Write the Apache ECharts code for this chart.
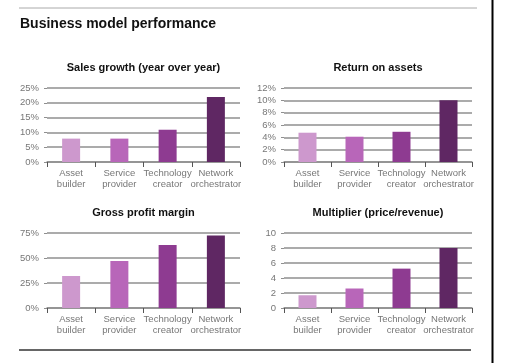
<!DOCTYPE html>
<html>
<head>
<meta charset="utf-8">
<script src="https://cdn.jsdelivr.net/npm/echarts@6/dist/echarts.min.js"></script>
<style>html,body{margin:0;padding:0;background:#fff;}#c{width:531px;height:363px;}</style>
</head>
<body>
<div id="c"></div>
<script>
var categories = ['Asset\nbuilder', 'Service\nprovider', 'Technology\ncreator', 'Network\norchestrator'];
var salesGrowth = [7.9, 7.9, 10.9, 22];
var returnOnAssets = [4.75, 4.1, 4.9, 10];
var grossMargin = [32, 47, 63, 72.5];
var multiplier = [1.7, 2.6, 5.25, 8];
var barColors = ['#cd98cd', '#b866b9', '#8e3b91', '#5f2763'];
var chartTitles = ['Sales growth (year over year)', 'Return on assets', 'Gross profit margin', 'Multiplier (price/revenue)'];
var mainTitle = 'Business model performance';

var FONT = '"Liberation Sans", Arial, Helvetica, sans-serif';
var gridColor = '#8f8f8f';
var grids = [
  {left: 47, top: 88, width: 193, height: 74},
  {left: 284, top: 88, width: 188, height: 74},
  {left: 47, top: 233, width: 193, height: 75},
  {left: 284, top: 233, width: 188, height: 75}
];
var yScales = [
  {max: 25, interval: 5, pct: true},
  {max: 12, interval: 2, pct: true},
  {max: 75, interval: 25, pct: true},
  {max: 10, interval: 2, pct: false}
];
var datasets = [salesGrowth, returnOnAssets, grossMargin, multiplier];

var xAxes = [], yAxes = [], series = [], graphics = [];
grids.forEach(function (g, i) {
  xAxes.push({
    type: 'category', gridIndex: i, data: categories,
    axisLine: {show: true, lineStyle: {color: gridColor, width: 1.5}},
    axisTick: {show: true, length: 5, lineStyle: {color: '#555', width: 1}},
    axisLabel: {color: '#777', fontFamily: FONT, fontSize: 9.5, lineHeight: 11, margin: 6, interval: 0}
  });
  var s = yScales[i];
  yAxes.push({
    type: 'value', gridIndex: i, min: 0, max: s.max, interval: s.interval,
    axisLine: {show: false},
    axisTick: {show: true, length: 3, lineStyle: {color: gridColor}},
    splitLine: {show: true, lineStyle: {color: gridColor, width: 1.5}},
    axisLabel: {color: '#777', fontFamily: FONT, fontSize: 9.5, margin: 8,
      formatter: s.pct ? '{value}%' : '{value}'}
  });
  series.push({
    type: 'bar', xAxisIndex: i, yAxisIndex: i, data: datasets[i], barWidth: 18,
    itemStyle: {color: function (p) { return barColors[p.dataIndex]; }},
    silent: true, animation: false
  });
  graphics.push({
    type: 'text', x: g.left + g.width / 2, y: g.top - 20,
    style: {text: chartTitles[i], font: 'bold 11px ' + FONT, fill: '#111',
      textAlign: 'center', textVerticalAlign: 'middle'}
  });
});

graphics.push({type: 'text', x: 20, y: 24, style: {text: mainTitle, font: 'bold 14px ' + FONT, fill: '#111', textAlign: 'left', textVerticalAlign: 'middle'}});
graphics.push({type: 'line', shape: {x1: 19, y1: 8, x2: 477, y2: 8}, style: {stroke: '#aaa', lineWidth: 1}});
graphics.push({type: 'line', shape: {x1: 19, y1: 350, x2: 471, y2: 350}, style: {stroke: '#333', lineWidth: 1.5}});
graphics.push({type: 'line', shape: {x1: 492.5, y1: 0, x2: 492.5, y2: 363}, style: {stroke: '#000', lineWidth: 2}});

var chart = echarts.init(document.getElementById('c'), null, {renderer: 'canvas'});
chart.setOption({
  animation: false,
  backgroundColor: '#fff',
  grid: grids,
  xAxis: xAxes,
  yAxis: yAxes,
  series: series,
  graphic: graphics
});
</script>
</body>
</html>
